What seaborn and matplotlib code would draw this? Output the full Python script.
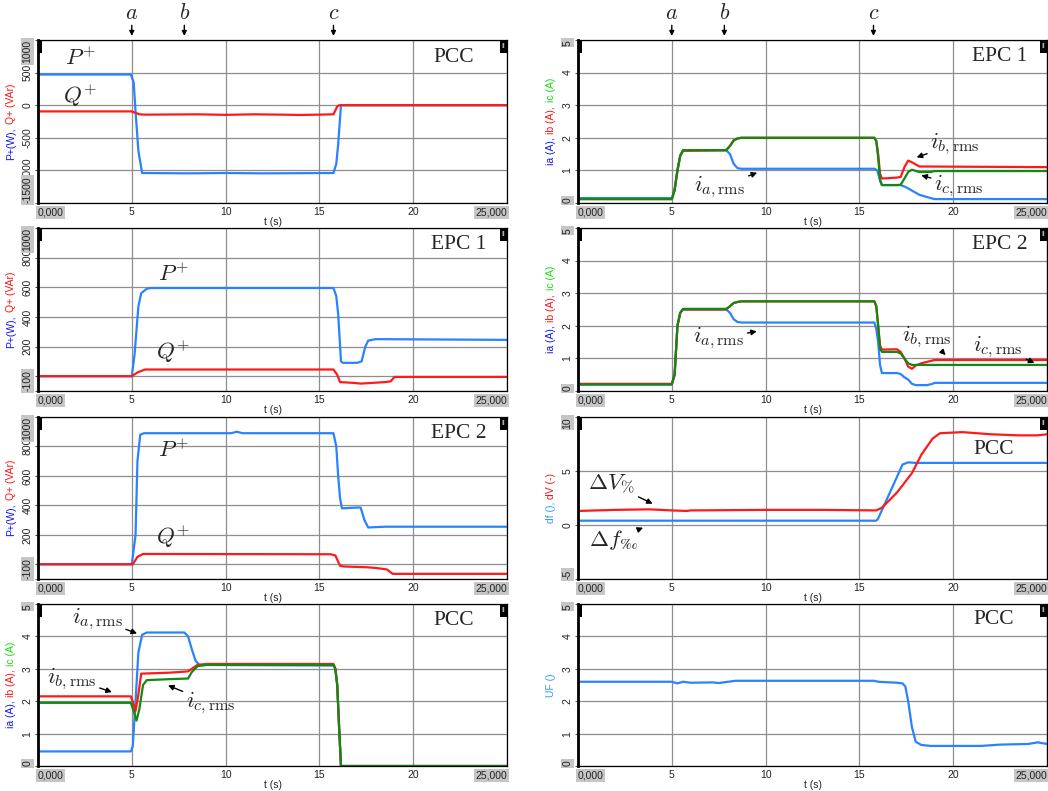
import numpy as np
import pandas as pd
import matplotlib
matplotlib.use("Agg")
import matplotlib.pyplot as plt
import seaborn as sns
from matplotlib.patches import Rectangle
import matplotlib.transforms as mtransforms

sns.set_style("white")
plt.rcParams['font.family'] = ['Liberation Sans', 'DejaVu Sans']
plt.rcParams['mathtext.fontset'] = 'cm'

# ---------------- data ----------------
x_ticks = [0, 5, 10, 15, 20, 25]
x_ticklabels = ['0,000', '5', '10', '15', '20', '25,000']
events = ['a', 'b', 'c']
event_t = [5.0, 7.8, 15.75]

# PCC power (left, row 1)
pcc_p_t = [0, 4.95, 5.1, 5.2, 5.35, 5.55, 8, 10, 12, 15.75, 15.9, 16.0, 16.1, 16.15, 25]
pcc_p = [470, 470, 350, -100, -700, -1040, -1045, -1040, -1045, -1040, -900, -600, -200, 0, 0]
pcc_q_t = [0, 5.0, 5.4, 5.7, 8.5, 10, 11.5, 13, 14, 15.75, 15.95, 16.05, 25]
pcc_q = [-95, -95, -140, -145, -140, -148, -140, -145, -150, -140, -20, 0, 0]
pp_yticks = [-1500, -1000, -500, 0, 500, 1000]
pp_ylabels = ['-1500', '-1000', '-500', '0', '500', '1000']

# EPC1 power (left, row 2)
epc1_p_t = [0, 5.0, 5.15, 5.35, 5.5, 5.8, 6.0, 15.75, 15.9, 16.0, 16.15, 16.25, 17.0, 17.25, 17.45, 17.6, 18, 25]
epc1_p = [0, 0, 150, 470, 560, 590, 595, 595, 540, 420, 100, 90, 90, 100, 200, 240, 250, 245]
epc1_q_t = [0, 5.0, 5.3, 5.7, 15.75, 15.95, 16.1, 16.8, 17.2, 18.5, 18.8, 19.0, 25]
epc1_q = [0, 0, 25, 45, 45, 10, -40, -45, -50, -40, -35, -5, -5]

# EPC2 power (left, row 3)
epc2_p_t = [0, 5.0, 5.2, 5.3, 5.45, 5.65, 10.3, 10.6, 10.9, 15.75, 15.9, 16.0, 16.1, 16.2, 17.0, 17.2, 17.4, 17.6, 18.5, 25]
epc2_p = [0, 0, 200, 700, 880, 890, 890, 900, 890, 890, 800, 600, 450, 380, 385, 385, 300, 250, 255, 255]
epc2_q_t = [0, 5.05, 5.3, 5.6, 15.6, 15.85, 16.1, 16.3, 17.5, 18.0, 18.6, 18.9, 25]
epc2_q = [0, 0, 50, 70, 68, 60, -10, -15, -20, -25, -35, -65, -65]
ep_yticks = [-100, 0, 200, 400, 600, 800, 1000]
ep_ylabels = ['-100', '', '200', '400', '600', '800', '1000']

# PCC currents (left, row 4)
pcc_ia_t = [0, 4.95, 5.05, 5.2, 5.35, 5.55, 5.8, 7.8, 8.0, 8.2, 8.4, 8.6, 15.75, 15.85, 15.95, 16.05, 16.15, 25]
pcc_ia = [0.45, 0.45, 0.6, 2.0, 3.5, 4.05, 4.12, 4.12, 4.0, 3.6, 3.25, 3.12, 3.1, 3.0, 2.5, 1.2, 0, 0]
pcc_ib_t = [0, 4.95, 5.1, 5.2, 5.35, 5.5, 7.0, 8.0, 8.2, 8.5, 9, 15.75, 15.85, 15.95, 16.05, 16.15, 25]
pcc_ib = [2.15, 2.15, 1.9, 1.7, 2.2, 2.85, 2.88, 2.92, 3.0, 3.12, 3.15, 3.15, 3.0, 2.5, 1.2, 0, 0]
pcc_ic_t = [0, 4.95, 5.1, 5.25, 5.4, 5.6, 5.8, 7.0, 8.0, 8.2, 8.5, 9, 15.75, 15.85, 15.95, 16.05, 16.15, 25]
pcc_ic = [1.95, 1.95, 1.7, 1.4, 1.75, 2.5, 2.65, 2.68, 2.7, 2.9, 3.08, 3.12, 3.12, 3.0, 2.5, 1.2, 0, 0]
i_yticks = [0, 1, 2, 3, 4, 5]
i_ylabels = ['0', '1', '2', '3', '4', '5']

# EPC1 currents (right, row 1)
epc1_ia_t = [0, 4.9, 5.0, 5.15, 5.3, 5.45, 5.6, 7.9, 8.1, 8.3, 8.5, 8.7, 15.8, 15.95, 16.1, 16.2, 17.2, 17.5, 17.8, 18.2, 18.8, 19.0, 25]
epc1_ia = [0.15, 0.15, 0.12, 0.4, 1.0, 1.45, 1.62, 1.62, 1.5, 1.2, 1.07, 1.05, 1.05, 1.0, 0.7, 0.55, 0.55, 0.48, 0.38, 0.25, 0.15, 0.12, 0.12]
epc1_ib_t = [0, 5.0, 5.15, 5.3, 5.45, 5.6, 7.9, 8.1, 8.3, 8.5, 8.7, 15.8, 15.9, 16.0, 16.1, 16.2, 17.0, 17.2, 17.4, 17.6, 17.8, 18.2, 25]
epc1_ib = [0.12, 0.12, 0.4, 1.0, 1.45, 1.6, 1.62, 1.75, 1.92, 1.98, 2.0, 2.0, 1.9, 1.5, 0.9, 0.75, 0.78, 0.8, 1.1, 1.3, 1.25, 1.12, 1.1]
epc1_ic_t = [0, 5.0, 5.15, 5.3, 5.45, 5.6, 7.9, 8.1, 8.3, 8.5, 8.7, 15.8, 15.9, 16.0, 16.1, 16.2, 17.0, 17.2, 17.4, 17.6, 17.8, 18.2, 18.8, 19.0, 25]
epc1_ic = [0.12, 0.12, 0.4, 1.0, 1.45, 1.62, 1.62, 1.75, 1.92, 1.98, 2.0, 2.0, 1.9, 1.4, 0.7, 0.55, 0.55, 0.56, 0.75, 0.95, 1.02, 0.95, 0.95, 0.98, 0.98]

# EPC2 currents (right, row 2)
epc2_ia_t = [0, 5.0, 5.15, 5.3, 5.45, 5.6, 7.9, 8.1, 8.3, 8.5, 8.7, 15.8, 15.9, 16.0, 16.1, 16.2, 17.0, 17.2, 17.4, 17.6, 17.8, 18.0, 18.6, 18.9, 19.0, 25]
epc2_ia = [0.2, 0.2, 0.5, 2.0, 2.4, 2.5, 2.5, 2.4, 2.2, 2.12, 2.1, 2.1, 1.9, 1.5, 0.8, 0.55, 0.55, 0.52, 0.42, 0.35, 0.22, 0.18, 0.18, 0.22, 0.25, 0.25]
epc2_ib_t = [0, 5.0, 5.15, 5.3, 5.45, 5.6, 7.9, 8.1, 8.3, 8.5, 8.7, 15.8, 15.9, 16.0, 16.1, 16.2, 17.0, 17.2, 17.4, 17.6, 17.8, 18.0, 18.3, 19.0, 25]
epc2_ib = [0.22, 0.22, 0.5, 2.0, 2.4, 2.5, 2.5, 2.6, 2.7, 2.73, 2.75, 2.75, 2.6, 2.0, 1.4, 1.27, 1.28, 1.2, 1.0, 0.75, 0.68, 0.78, 0.85, 0.95, 0.95]
epc2_ic_t = [0, 5.0, 5.15, 5.3, 5.45, 5.6, 7.9, 8.1, 8.3, 8.5, 8.7, 15.8, 15.9, 16.0, 16.1, 16.2, 17.0, 17.2, 17.4, 17.6, 17.8, 25]
epc2_ic = [0.2, 0.2, 0.5, 2.0, 2.4, 2.52, 2.52, 2.6, 2.7, 2.73, 2.75, 2.75, 2.6, 2.0, 1.3, 1.2, 1.2, 1.15, 1.0, 0.85, 0.8, 0.8]

# PCC df / dV (right, row 3)
df_t = [0, 15.9, 16.0, 17.3, 17.6, 18.0, 25]
df_v = [0.4, 0.4, 0.6, 5.6, 5.8, 5.75, 5.75]
dv_t = [0, 2, 3.8, 5, 5.8, 6, 10, 13, 15.9, 16.2, 17, 17.8, 18.3, 18.9, 19.3, 20.5, 22, 23.5, 24.5, 25]
dv_v = [1.3, 1.4, 1.45, 1.35, 1.3, 1.35, 1.4, 1.4, 1.35, 1.6, 3.0, 4.8, 6.5, 8.0, 8.5, 8.6, 8.4, 8.3, 8.3, 8.4]
d_yticks = [-5, 0, 5, 10]
d_ylabels = ['-5', '0', '5', '10']

# PCC UF (right, row 4)
uf_t = [0, 5, 5.3, 5.6, 6, 7.2, 7.5, 8, 8.4, 10, 15.8, 16, 17, 17.3, 17.45, 17.6, 17.8, 18.0, 18.3, 18.8, 21.5, 22.5, 24, 24.5, 25]
uf_v = [2.6, 2.6, 2.55, 2.6, 2.57, 2.58, 2.56, 2.6, 2.63, 2.63, 2.63, 2.6, 2.57, 2.55, 2.45, 2.0, 1.2, 0.75, 0.65, 0.62, 0.62, 0.66, 0.68, 0.73, 0.68]

BLUE = '#2a82ff'
RED = '#ff1a1a'
GREEN = '#108a10'
LW = 1.6

W, H = 1048, 791
fig = plt.figure(figsize=(W / 100, H / 100), dpi=100)

col_x = [38, 578]
ax_w = 469
rows = [(40, 203), (228, 391), (417, 579), (604, 766)]


def make_ax(col, row):
    top, bot = rows[row]
    return fig.add_axes([col_x[col] / W, 1 - bot / H, ax_w / W, (bot - top) / H])


TICKFS = 7.5
GRAYBOX = dict(boxstyle='square,pad=0.15', fc='#c6c6c6', ec='none')


def style(ax, ylim, yticks, ylabels, title, title_xy):
    ax.set_xlim(0, 25)
    ax.set_ylim(*ylim)
    ax.set_xticks(x_ticks)
    ax.set_xticklabels(x_ticklabels, fontsize=TICKFS, color='#222222')
    # middle ticks first, end ticks last so their grey boxes sit on top
    n = len(yticks)
    order = list(range(1, n - 1)) + [0, n - 1]
    ax.set_yticks([yticks[i] for i in order])
    ax.set_yticklabels([ylabels[i] for i in order], fontsize=TICKFS, color='#222222', rotation=90)
    ax.grid(True, color='#8e8e8e', lw=0.9)
    ax.set_axisbelow(True)
    for s in ax.spines.values():
        s.set_color('black')
        s.set_linewidth(0.9)
        s.set_visible(True)
    ax.spines['left'].set_linewidth(2.0)
    ax.tick_params(axis='both', which='both', length=2, width=0.8, pad=2,
                   left=True, bottom=False, color='#555555')
    ax.tick_params(axis='x', pad=1)
    xl = ax.get_xticklabels()
    xl[0].set_ha('left'); xl[0].set_bbox(GRAYBOX)
    xl[-1].set_ha('right'); xl[-1].set_bbox(GRAYBOX)
    yl = ax.get_yticklabels()
    for t in yl:
        t.set_va('center')
    yl[-2].set_va('bottom'); yl[-2].set_bbox(GRAYBOX)
    yl[-1].set_va('top'); yl[-1].set_bbox(GRAYBOX)
    ax.set_xlabel('t (s)', fontsize=TICKFS, labelpad=0, color='#222222')
    ax.set_ylabel('')
    ax.text(title_xy[0], title_xy[1], title, transform=ax.transAxes, ha='center', va='center',
            fontsize=15.5, family='Liberation Serif')
    # corner markers
    ax.add_patch(Rectangle((0, 1 - 13 / 163), 4 / 469, 13 / 163, transform=ax.transAxes,
                           fc='black', ec='none', clip_on=False, zorder=5))
    ax.add_patch(Rectangle((1 - 7 / 469, 1 - 13 / 163), 7 / 469, 13 / 163, transform=ax.transAxes,
                           fc='black', ec='none', clip_on=False, zorder=5))
    ax.text(1 - 3.5 / 469, 1 - 6.5 / 163, 'II', transform=ax.transAxes, ha='center', va='center',
            fontsize=5, color='#dddddd', zorder=6)


def line(ax, t, v, c):
    sns.lineplot(x=t, y=v, ax=ax, color=c, lw=LW, estimator=None, sort=False)


ARROW = dict(arrowstyle='-|>', color='black', lw=1.0, mutation_scale=8, shrinkA=0, shrinkB=0)
MFS = 16.5


def note(ax, s, xytext, xy=None):
    if xy is None:
        ax.text(xytext[0], xytext[1], s, fontsize=MFS, ha='center', va='center')
    else:
        ax.annotate(s, xy=xy, xytext=xytext, fontsize=MFS, ha='center', va='center', arrowprops=ARROW)


# ---- left column ----
ax = make_ax(0, 0)
line(ax, pcc_p_t, pcc_p, BLUE)
line(ax, pcc_q_t, pcc_q, RED)
style(ax, (-1500, 1000), pp_yticks, pp_ylabels, 'PCC', (0.886, 0.89))
note(ax, r'$P^{+}$', (2.24, 718))
note(ax, r'$Q^{+}$', (2.24, 153))
ax_l1 = ax

ax = make_ax(0, 1)
line(ax, epc1_p_t, epc1_p, BLUE)
line(ax, epc1_q_t, epc1_q, RED)
style(ax, (-100, 1000), ep_yticks, ep_ylabels, 'EPC 1', (0.898, 0.896))
note(ax, r'$P^{+}$', (7.2, 687))
note(ax, r'$Q^{+}$', (7.2, 164))
ax_l2 = ax

ax = make_ax(0, 2)
line(ax, epc2_p_t, epc2_p, BLUE)
line(ax, epc2_q_t, epc2_q, RED)
style(ax, (-100, 1000), ep_yticks, ep_ylabels, 'EPC 2', (0.898, 0.9))
note(ax, r'$P^{+}$', (7.2, 770))
note(ax, r'$Q^{+}$', (7.2, 184))
ax_l3 = ax

ax = make_ax(0, 3)
line(ax, pcc_ia_t, pcc_ia, BLUE)
line(ax, pcc_ib_t, pcc_ib, RED)
line(ax, pcc_ic_t, pcc_ic, GREEN)
style(ax, (0, 5), i_yticks, i_ylabels, 'PCC', (0.886, 0.9))
note(ax, r'$i_{a,\mathrm{rms}}$', (3.15, 4.55), (5.28, 4.09))
note(ax, r'$i_{b,\mathrm{rms}}$', (1.8, 2.7), (3.94, 2.28))
note(ax, r'$i_{c,\mathrm{rms}}$', (9.2, 1.94), (6.93, 2.49))
ax_l4 = ax

# ---- right column ----
ax = make_ax(1, 0)
line(ax, epc1_ia_t, epc1_ia, BLUE)
line(ax, epc1_ib_t, epc1_ib, RED)
line(ax, epc1_ic_t, epc1_ic, GREEN)
style(ax, (0, 5), i_yticks, i_ylabels, 'EPC 1', (0.9, 0.9))
note(ax, r'$i_{a,\mathrm{rms}}$', (7.56, 0.5), (9.55, 0.93))
note(ax, r'$i_{b,\mathrm{rms}}$', (20.1, 1.81), (18.05, 1.4))
note(ax, r'$i_{c,\mathrm{rms}}$', (20.3, 0.52), (18.3, 0.85))
ax_r1 = ax

ax = make_ax(1, 1)
line(ax, epc2_ia_t, epc2_ia, BLUE)
line(ax, epc2_ib_t, epc2_ib, RED)
line(ax, epc2_ic_t, epc2_ic, GREEN)
style(ax, (0, 5), i_yticks, i_ylabels, 'EPC 2', (0.9, 0.9))
note(ax, r'$i_{a,\mathrm{rms}}$', (7.5, 1.62), (9.53, 1.83))
note(ax, r'$i_{b,\mathrm{rms}}$', (18.6, 1.68), (19.6, 1.1))
note(ax, r'$i_{c,\mathrm{rms}}$', (22.4, 1.37), (24.33, 0.86))
ax_r2 = ax

ax = make_ax(1, 2)
line(ax, df_t, df_v, BLUE)
line(ax, dv_t, dv_v, RED)
style(ax, (-5, 10), d_yticks, d_ylabels, 'PCC', (0.887, 0.8))
note(ax, r'$\Delta V_{\%}$', (1.8, 3.8), (3.98, 1.97))
note(ax, '$\\Delta f_{\u2030}$', (1.87, -1.35), (3.47, -0.25))
ax_r3 = ax

ax = make_ax(1, 3)
line(ax, uf_t, uf_v, BLUE)
style(ax, (0, 5), i_yticks, i_ylabels, 'PCC', (0.887, 0.907))
ax_r4 = ax

# ---- event markers a, b, c ----
for ax in (ax_l1, ax_r1):
    tr = mtransforms.blended_transform_factory(ax.transData, ax.transAxes)
    for name, te in zip(events, event_t):
        ax.annotate('', xy=(te, 1.025), xycoords=tr, xytext=(te, 1.09), textcoords=tr,
                    arrowprops=dict(arrowstyle='-|>', color='black', lw=1.0, mutation_scale=7,
                                    shrinkA=0, shrinkB=0))
        ax.text(te, 1.16, f'${name}$', transform=tr, ha='center', va='center', fontsize=16)

# ---- multi-coloured y labels ----
fig.canvas.draw()
renderer = fig.canvas.get_renderer()


def color_ylabel(ax, pieces, xpix, gap=3.5):
    texts = [fig.text(0, 0, s, color=c, rotation=90, fontsize=7.5, ha='center', va='bottom')
             for s, c in pieces]
    hs = [t.get_window_extent(renderer).height for t in texts]
    total = sum(hs) + gap * (len(hs) - 1)
    bb = ax.get_position()
    y = (bb.y0 + bb.y1) / 2 * H - total / 2
    for t, h in zip(texts, hs):
        t.set_position((xpix / W, y / H))
        y += h + gap


PQ = [('P+(W),', '#1010ff'), ('Q+ (VAr)', '#ff1010')]
IABC = [('ia (A),', '#1010ff'), ('ib (A),', '#ff1010'), ('ic (A)', '#10dd10')]
for ax in (ax_l1, ax_l2, ax_l3):
    color_ylabel(ax, PQ, 11)
color_ylabel(ax_l4, IABC, 11)
color_ylabel(ax_r1, IABC, 551)
color_ylabel(ax_r2, IABC, 551)
color_ylabel(ax_r3, [('df (),', '#3399ff'), ('dV (-)', '#ff1010')], 551)
color_ylabel(ax_r4, [('UF ()', '#3399ff')], 551)

fig.savefig('out.png', dpi=100)
